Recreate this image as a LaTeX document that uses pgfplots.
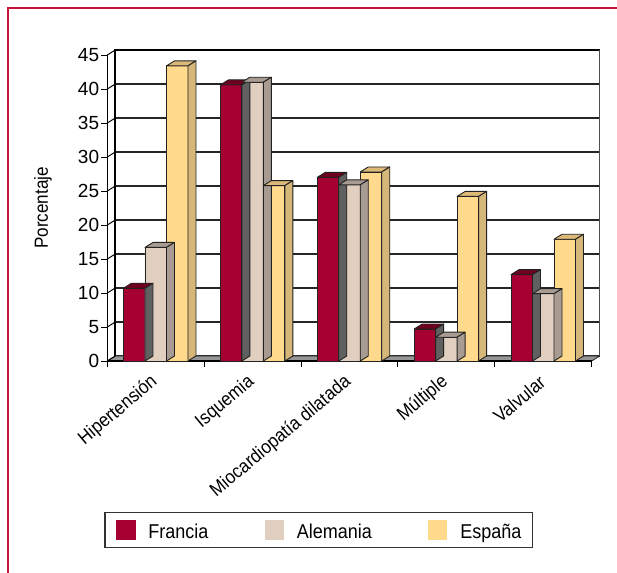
\documentclass[border=0pt]{standalone}
\usepackage{fontspec}
\setmainfont{Liberation Sans}
\newfontfamily\condfont{Liberation Sans}[FakeStretch=0.9]
\usepackage{pgfplots}
\usepackage{pgfplotstable}
\pgfplotsset{compat=1.18}

\definecolor{frFront}{RGB}{166,0,51}
\definecolor{frTop}{RGB}{110,0,32}
\definecolor{frSide}{RGB}{96,96,96}
\definecolor{alFront}{RGB}{224,206,190}
\definecolor{alTop}{RGB}{168,155,145}
\definecolor{alSide}{RGB}{168,155,145}
\definecolor{esFront}{RGB}{255,217,140}
\definecolor{esTop}{RGB}{220,185,120}
\definecolor{esSide}{RGB}{213,183,122}
\definecolor{floorgray}{RGB}{150,150,150}
\definecolor{barline}{RGB}{34,34,34}
\definecolor{redframe}{RGB}{200,16,56}

% percentage per cause of heart failure and country
\pgfplotstableread{
x    F     A     E
0.5  10.7  16.7  43.4
1.5  40.6  41.0  25.8
2.5  27.0  25.9  27.8
3.5  4.7   3.5   24.2
4.5  12.7  9.9   17.9
}\datatable

\pgfdeclareplotmark{nothing}{}

% top and right faces of a column whose front top edge is at the current point
% #1 bar shift (bp), #2 top colour, #3 side colour; 6.8bp per percentage unit
\newcommand\barfaces[3]{%
  \pgfmathfloatparsenumber{\barval}%
  \pgfmathfloattofixed{\pgfmathresult}\let\bv\pgfmathresult
  \pgfkeys{/pgf/fpu=false}%
  \pgfmathsetmacro\barh{\bv*6.8}%
  \pgfmathsetmacro\bl{#1-10.75}%
  \pgfmathsetmacro\br{#1+10.75}%
  \filldraw[fill=#2, draw=barline, line width=0.9bp, line join=round]
    (\bl bp,0) -- (\br bp,0) -- ++(8bp,5bp) -- ++(-21.5bp,0) -- cycle;
  \filldraw[fill=#3, draw=barline, line width=0.9bp, line join=round]
    (\br bp,0) -- ++(8bp,5bp) -- ++(0,-\barh bp) -- ++(-8bp,-5bp) -- cycle;
}

\pgfplotsset{
  front face/.style n args={2}{ybar, bar width=21.5bp, bar shift=#1bp,
    fill=#2, draw=barline, line width=0.9bp,
    legend image code/.code={\fill[#2] (0bp,-7.5bp) rectangle (18.5bp,11bp);}},
  side faces/.style={scatter, only marks, mark=nothing, forget plot,
    visualization depends on=rawy \as \barval,
    scatter/@post marker code/.code={}},
}

\begin{document}
\begin{tikzpicture}
\path[use as bounding box] (0,0) rectangle (617bp,573bp);
\draw[redframe, line width=2bp] (8.3bp,0) -- (8.3bp,564.5bp) -- (617bp,564.5bp);
\begin{axis}[
  at={(107.3bp,212bp)}, anchor=south west,
  scale only axis, width=484.4bp, height=306bp,
  xmin=0, xmax=5, ymin=0, ymax=45,
  clip=false,
  axis line style={draw=none},
  xtick={0,1,...,5},
  xticklabels={Hipertensión,Isquemia,Miocardiopatía dilatada,Múltiple,Valvular},
  x tick label as interval,
  ytick={0,5,...,45},
  xtick pos=bottom, ytick pos=left,
  tick align=outside, major tick length=6bp,
  tick style={line width=1bp, black},
  ymajorgrids,
  major grid style={shift={(8bp,5bp)}, line width=1.1bp, black!85},
  /pgf/number format/assume math mode=true,
  yticklabel style={font=\fontsize{19bp}{19bp}\selectfont, inner sep=2bp},
  xticklabel style={font=\condfont\fontsize{19bp}{21bp}\selectfont,
    rotate=40, anchor=east, inner sep=1bp},
  xticklabel shift=12bp,
  ylabel={Porcentaje},
  ylabel style={at={(axis description cs:-0.133,0.5)}, anchor=center,
    font=\condfont\fontsize{19bp}{21bp}\selectfont},
  legend columns=3,
  legend style={at={(axis description cs:0.4365,-0.552)}, anchor=center,
    draw=black!80, line width=1.2bp,
    font=\condfont\fontsize{20bp}{22bp}\selectfont,
    inner xsep=11bp, inner ysep=7.5bp,
    nodes={inner sep=0bp},
    /tikz/every odd column/.append style={column sep=13bp},
    /tikz/every even column/.append style={column sep=56bp}},
]
% walls and floor
\draw[line width=2bp, black] ([shift={(8bp,5bp)}]axis cs:0,0) -- ([shift={(8bp,5bp)}]axis cs:0,45)
  -- ([shift={(8bp,5bp)}]axis cs:5,45);
\draw[line width=1.5bp, black!70] ([shift={(8bp,5bp)}]axis cs:5,45) -- ([shift={(8bp,5bp)}]axis cs:5,0);
\filldraw[fill=floorgray, draw=barline, line width=0.8bp, line join=round]
  (axis cs:0,0) -- (axis cs:5,0) -- ([shift={(8bp,5bp)}]axis cs:5,0)
  -- ([shift={(8bp,5bp)}]axis cs:0,0) -- cycle;
\pgfplotsinvokeforeach{0,5,...,45}{\draw[line width=1bp, black] (axis cs:0,#1) -- ++(8bp,5bp);}
\draw[line width=1.1bp, black] (axis cs:0,45) -- (axis cs:0,0) -- (axis cs:5,0);

% columns, one country after the other
\addplot[front face={-21.5}{frFront}] table[x=x,y=F]{\datatable};
\addlegendentry{Francia}
\addplot[side faces, scatter/@pre marker code/.code={\barfaces{-21.5}{frTop}{frSide}}]
  table[x=x,y=F]{\datatable};
\addplot[front face={0}{alFront}] table[x=x,y=A]{\datatable};
\addlegendentry{Alemania}
\addplot[side faces, scatter/@pre marker code/.code={\barfaces{0}{alTop}{alSide}}]
  table[x=x,y=A]{\datatable};
\addplot[front face={21.5}{esFront}] table[x=x,y=E]{\datatable};
\addlegendentry{España}
\addplot[side faces, scatter/@pre marker code/.code={\barfaces{21.5}{esTop}{esSide}}]
  table[x=x,y=E]{\datatable};
\end{axis}
\end{tikzpicture}
\end{document}
